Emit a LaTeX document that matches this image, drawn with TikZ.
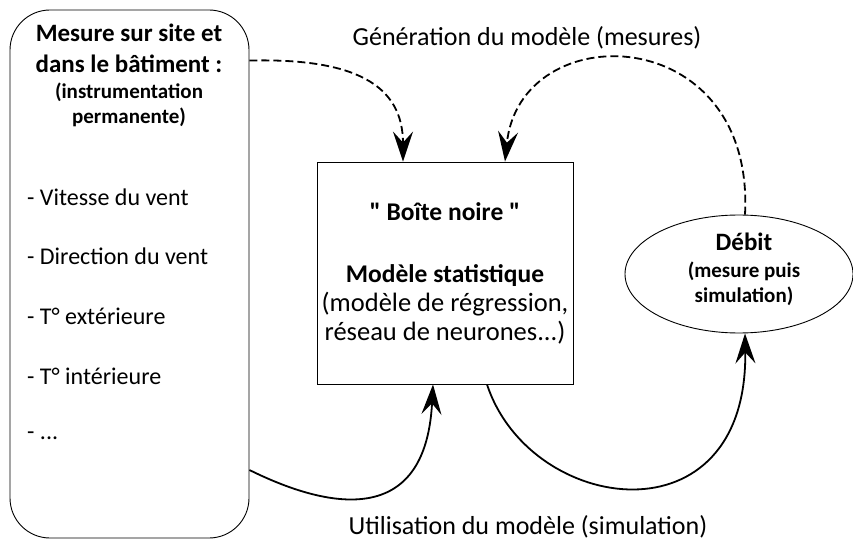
\documentclass[tikz,border=0pt]{standalone}
\usepackage{fontspec}
\setmainfont{Carlito}
\usetikzlibrary{arrows.meta,shapes.geometric}
\newcommand\qdroit{\XeTeXglyph\XeTeXcharglyph"22\relax}

\begin{document}
\begin{tikzpicture}[x=1pt,y=-1pt,
  fleche/.style={line width=1.8pt,-{Stealth[length=30pt,width=20pt,inset=11pt]}},
  tirets/.style={fleche,dash pattern=on 8pt off 4pt},
  cadre/.style={draw,line width=0.9pt,inner sep=0pt},
  grand/.style={font=\fontsize{26}{31}\selectfont},
  liste/.style={font=\fontsize{24}{29}\selectfont},
  grandgras/.style={font=\fontsize{25}{31}\selectfont\bfseries},
  petit/.style={font=\fontsize{21}{25}\selectfont\bfseries}]

  \useasboundingbox (0,0) rectangle (853,545);

  % bloc des mesures
  \node[cadre,rounded corners=40pt,minimum width=239pt,minimum height=528pt] (mesure) at (129.5,274) {};
  \node[grandgras,align=center] (titre) at (129,48) {Mesure sur site et\\dans le bâtiment :};
  \node[petit,align=center] (soustitre) at (129,105) {(instrumentation\\permanente)};
  \foreach \txt [count=\i] in {{- Vitesse du vent},{- Direction du vent},{- T° extérieure},{- T° intérieure},{- .{}.{}.}} {
    \node[liste,anchor=west,inner sep=0pt] (item\i) at (27,{197+59.75*(\i-1)}) {\txt};
  }

  % boite noire
  \node[cadre,minimum width=256pt,minimum height=222pt,align=center,font=\fontsize{26.5}{29}\selectfont] (boite) at (445,273)
    {\textbf{\fontsize{25.5}{29}\selectfont\qdroit{} Boîte noire \qdroit}\\[33pt]\textbf{\fontsize{25.5}{29}\selectfont Modèle statistique}\\(modèle de régression,\\réseau de neurones...)};

  % debit
  \node[cadre,ellipse,minimum width=228pt,minimum height=118pt] (debit) at (739,274) {};
  \node[grandgras] (debittitre) at (744,242) {Débit};
  \node[petit,align=center] (debitsous) at (744,284) {(mesure puis\\simulation)};

  % legendes
  \node[grand] (generation) at (527,38) {Génération du modèle (mesures)};
  \node[grand] (utilisation) at (528,527) {Utilisation du modèle (simulation)};

  % fleches
  \draw[tirets] ([yshift=-51pt]mesure.north east) .. controls (355,58) and (403,85) .. ([xshift=-42pt]boite.north);
  \draw[tirets] ([xshift=6pt]debit.north) .. controls (755,20) and (520,15) .. ([xshift=60pt]boite.north);
  \draw[fleche] ([yshift=-196pt]mesure.east) .. controls (310,500) and (425,540) .. ([xshift=-12pt]boite.south);
  \draw[fleche] ([xshift=42pt]boite.south) .. controls (530,515) and (748,545) .. ([xshift=6pt]debit.south);

\end{tikzpicture}
\end{document}
